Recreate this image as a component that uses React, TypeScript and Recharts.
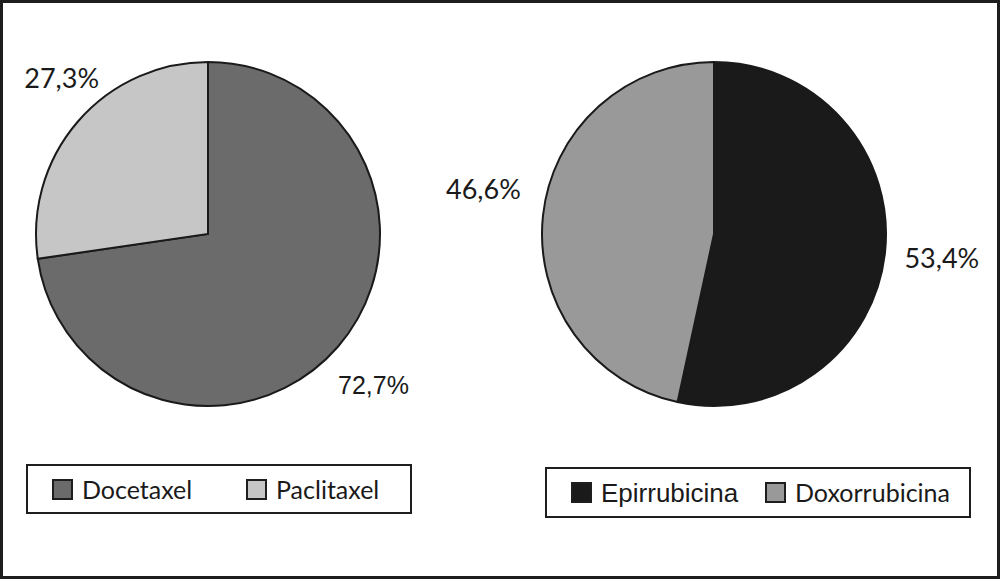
import React from "react";
import { Cell, Legend, Pie, PieChart } from "recharts";

// taxanes (left pie)
const TAXANE_NAMES = ["Docetaxel", "Paclitaxel"];
const TAXANE_VALUES = [72.7, 27.3];
// anthracyclines (right pie)
const ANTHRA_NAMES = ["Epirrubicina", "Doxorrubicina"];
const ANTHRA_VALUES = [53.4, 46.6];

const TAXANE_COLORS = ["#6b6b6b", "#c6c6c6"];
const ANTHRA_COLORS = ["#1a1a1a", "#999999"];

const LIGHT_FONT = "Lato, 'Open Sans', sans-serif";
const ARIAL_FONT = "'Liberation Sans', Arial, sans-serif";

// small per-label nudges (radial distance past the rim, angle shift in degrees, font)
const LABEL_STYLE: Record<string, { dr: number; da: number; font: string }> = {
  Docetaxel: { dr: 52, da: -1.5, font: ARIAL_FONT },
  Paclitaxel: { dr: 42, da: -6, font: LIGHT_FONT },
  Epirrubicina: { dr: 57, da: 0.3, font: LIGHT_FONT },
  Doxorrubicina: { dr: 63, da: -5, font: LIGHT_FONT },
};

const RAD = Math.PI / 180;

const fmt = (v: number) => v.toFixed(1).replace(".", ",") + "%";

function renderLabel(props: any) {
  const { cx, cy, midAngle, outerRadius, value, name } = props;
  const s = LABEL_STYLE[name];
  const r = outerRadius + s.dr;
  const a = (midAngle + s.da) * RAD;
  const x = cx + r * Math.cos(a);
  const y = cy - r * Math.sin(a);
  return (
    <text
      x={x}
      y={y}
      textAnchor="middle"
      dominantBaseline="central"
      fontFamily={s.font}
      fontWeight={400}
      fontSize={s.font === LIGHT_FONT ? 27 : 25}
      fill="#1a1a1a"
    >
      {fmt(value)}
    </text>
  );
}

function LegendBox({
  names,
  colors,
  fonts,
}: {
  names: string[];
  colors: string[];
  fonts: string[];
}) {
  return (
    <div
      style={{
        boxSizing: "border-box",
        width: "100%",
        height: "100%",
        border: "2px solid #1e1e1e",
        display: "flex",
        alignItems: "center",
        paddingLeft: 24,
        overflow: "hidden",
      }}
    >
      {names.map((n, i) => (
        <div key={n} style={{ display: "flex", alignItems: "center", width: 194, flexShrink: 0 }}>
          <span
            style={{
              display: "inline-block",
              boxSizing: "border-box",
              width: 21,
              height: 21,
              background: colors[i],
              border: "2px solid #1e1e1e",
              marginRight: 9,
              flexShrink: 0,
            }}
          />
          <span
            style={{
              fontFamily: fonts[i],
              fontWeight: 400,
              fontSize: fonts[i] === LIGHT_FONT ? 25 : 26,
              color: "#1a1a1a",
              lineHeight: 1,
              whiteSpace: "nowrap",
            }}
          >
            {n}
          </span>
        </div>
      ))}
    </div>
  );
}

const taxaneData = TAXANE_NAMES.map((name, i) => ({ name, value: TAXANE_VALUES[i] }));
const anthraData = ANTHRA_NAMES.map((name, i) => ({ name, value: ANTHRA_VALUES[i] }));

export default function App() {
  return (
    <div style={{ position: "absolute", left: 0, top: 0, width: 1005, height: 579, background: "#fff" }}>
      <div
        style={{
          position: "absolute",
          left: 0,
          top: 0,
          width: 1000,
          height: 579,
          boxSizing: "border-box",
          border: "3px solid #1e1e1e",
        }}
      />
      <div style={{ position: "absolute", left: 0, top: 0 }}>
        <PieChart width={440} height={579} margin={{ top: 0, right: 0, bottom: 0, left: 0 }}>
          <Pie
            data={taxaneData}
            dataKey="value"
            nameKey="name"
            cx={208}
            cy={234}
            outerRadius={172}
            startAngle={90}
            endAngle={-270}
            stroke="#1a1a1a"
            strokeWidth={2}
            label={renderLabel}
            labelLine={false}
            isAnimationActive={false}
          >
            {taxaneData.map((d, i) => (
              <Cell key={d.name} fill={TAXANE_COLORS[i]} />
            ))}
          </Pie>
          <Legend
            verticalAlign="bottom"
            wrapperStyle={{ left: 26, top: 464, bottom: "auto", width: 386, height: 50 }}
            content={() => (
              <LegendBox names={TAXANE_NAMES} colors={TAXANE_COLORS} fonts={[LIGHT_FONT, LIGHT_FONT]} />
            )}
          />
        </PieChart>
      </div>
      <div style={{ position: "absolute", left: 440, top: 0 }}>
        <PieChart width={560} height={579} margin={{ top: 0, right: 0, bottom: 0, left: 0 }}>
          <Pie
            data={anthraData}
            dataKey="value"
            nameKey="name"
            cx={274}
            cy={234}
            outerRadius={172}
            startAngle={90}
            endAngle={-270}
            stroke="#1a1a1a"
            strokeWidth={2}
            label={renderLabel}
            labelLine={false}
            isAnimationActive={false}
          >
            {anthraData.map((d, i) => (
              <Cell key={d.name} fill={ANTHRA_COLORS[i]} />
            ))}
          </Pie>
          <Legend
            verticalAlign="bottom"
            wrapperStyle={{ left: 105, top: 467, bottom: "auto", width: 426, height: 51 }}
            content={() => (
              <LegendBox names={ANTHRA_NAMES} colors={ANTHRA_COLORS} fonts={[ARIAL_FONT, LIGHT_FONT]} />
            )}
          />
        </PieChart>
      </div>
    </div>
  );
}
